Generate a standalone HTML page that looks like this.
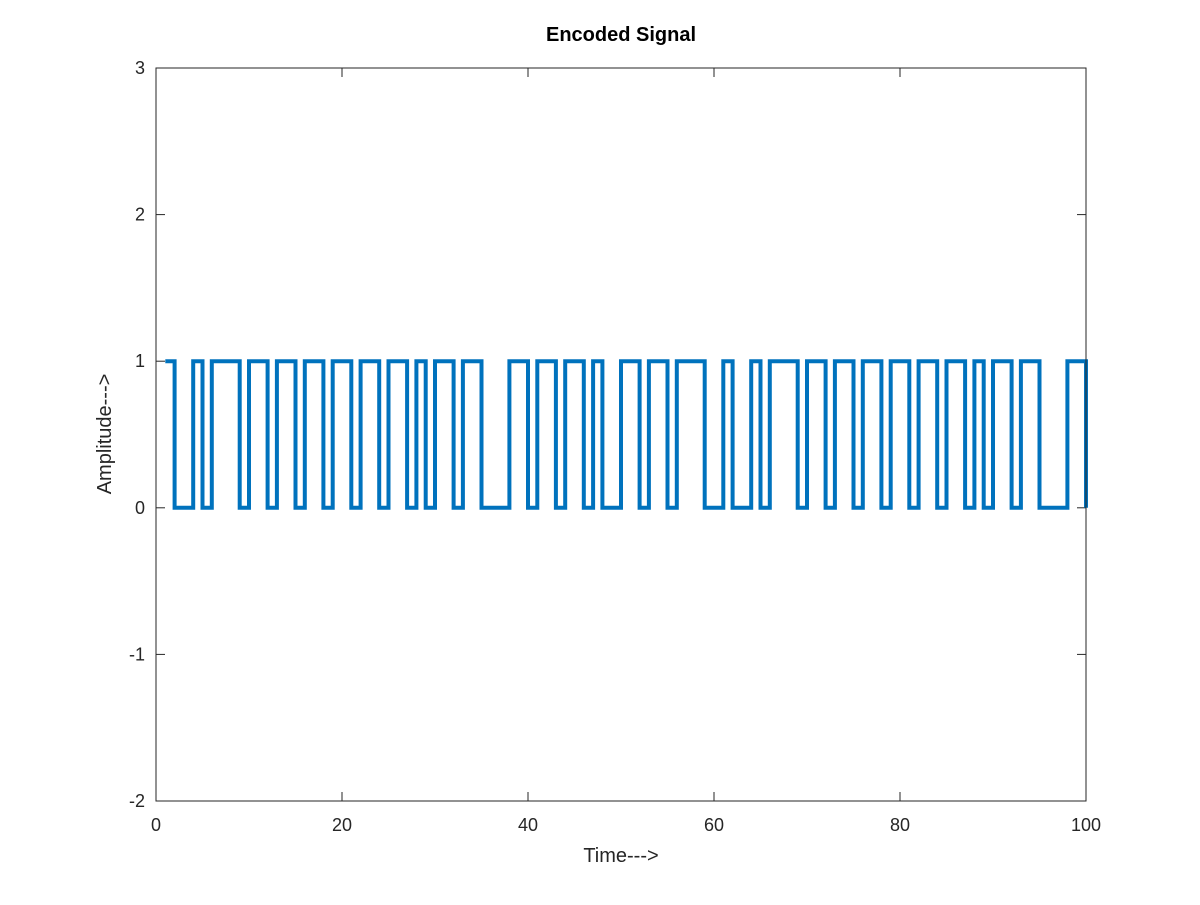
<!DOCTYPE html>
<html><head><meta charset="utf-8"><style>
body{margin:0;background:#fff;}
svg text{font-family:"Liberation Sans",sans-serif;fill:#262626;}
</style></head><body>
<svg id="chart" width="1200" height="900" viewBox="0 0 1200 900">
<rect width="1200" height="900" fill="#fff"/>
<g id="ticks"></g>
<path id="sig" fill="none" stroke="#0072BD" stroke-width="4" stroke-linejoin="miter"/>
<rect x="156" y="68" width="930" height="733" fill="none" stroke="#262626" stroke-width="1"/>
<text x="621" y="41" text-anchor="middle" font-size="20" font-weight="bold" style="fill:#000">Encoded Signal</text>
<text x="621" y="862" text-anchor="middle" font-size="20">Time---&gt;</text>
<text transform="translate(111,434) rotate(-90)" text-anchor="middle" font-size="20">Amplitude---&gt;</text>
</svg>
<script>
const times = [];
for (let t = 1; t <= 100; t++) times.push(t);
const levels = [1,0,0,1,0,1,1,1,0,1,1,0,1,1,0,1,1,0,1,1,0,1,1,0,1,1,0,1,0,1,1,0,1,1,0,0,0,1,1,0,1,1,0,1,1,0,1,0,0,1,1,0,1,1,0,1,1,1,0,0,1,0,0,1,0,1,1,1,0,1,1,0,1,1,0,1,1,0,1,1,0,1,1,0,1,1,0,1,0,1,1,0,1,1,0,0,0,1,1,0];
const xTicks = [0,20,40,60,80,100];
const yTicks = [-2,-1,0,1,2,3];
const X = v => 156 + (v - 0) / 100 * 930;
const Y = v => 801 - (v + 2) / 5 * 733;
let d = '';
for (let i = 0; i < times.length; i++) {
  const x = X(times[i]), y = Y(levels[i]);
  if (i === 0) d += 'M' + x + ',' + y;
  else d += 'L' + x + ',' + Y(levels[i-1]) + 'L' + x + ',' + y;
}
document.getElementById('sig').setAttribute('d', d);
const g = document.getElementById('ticks');
const ns = 'http://www.w3.org/2000/svg';
function mk(tag, attrs){const e=document.createElementNS(ns,tag);for(const k in attrs)e.setAttribute(k,attrs[k]);g.appendChild(e);return e;}
xTicks.forEach(v => {
  const x = X(v);
  mk('line',{x1:x,x2:x,y1:801,y2:792,stroke:'#262626'});
  mk('line',{x1:x,x2:x,y1:68,y2:77,stroke:'#262626'});
  const t = mk('text',{x:x,y:831,'text-anchor':'middle','font-size':'18'});
  t.textContent = v;
  
  
});
yTicks.forEach(v => {
  const y = Y(v);
  mk('line',{x1:156,x2:165,y1:y,y2:y,stroke:'#262626'});
  mk('line',{x1:1086,x2:1077,y1:y,y2:y,stroke:'#262626'});
  const t = mk('text',{x:145,y:y+6,'text-anchor':'end','font-size':'18'});
  t.textContent = v;
  
  
});
</script>
</body></html>
